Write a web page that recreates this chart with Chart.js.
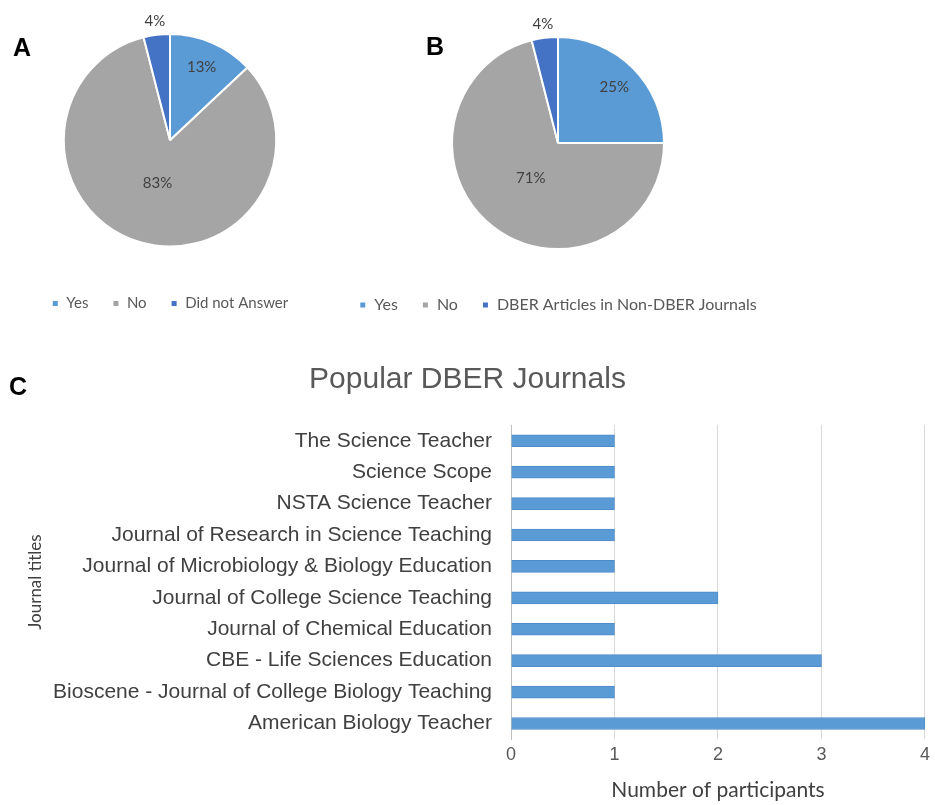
<!DOCTYPE html>
<html lang="en">
<head>
<meta charset="UTF-8">
<title>DBER journals survey</title>
<script src="https://cdn.jsdelivr.net/npm/chart.js"></script>
<style>
    body {
        margin: 0;
        background: #fff;
        width: 935px;
        height: 805px;
        position: relative;
        overflow: hidden;
    }
    canvas { position: absolute; }
    .panel {
        position: absolute;
        font-family: "Liberation Sans", Arial, sans-serif;
        font-weight: bold;
        font-size: 25px;
        color: #000;
        z-index: 2;
    }
</style>
</head>
<body>
<div class="panel" style="left:13px; top:33px">A</div>
<div class="panel" style="left:426px; top:32px">B</div>
<div class="panel" style="left:9px; top:372px">C</div>

<canvas id="pieA" width="340" height="321" style="left:0; top:0"></canvas>
<canvas id="pieB" width="480" height="323" style="left:318px; top:0"></canvas>
<canvas id="barC" width="935" height="465" style="left:0; top:340px"></canvas>

<script>
    // pie A
    const pieLabelsA = ['Yes', 'No', 'Did not Answer'];
    const pieValuesA = [13, 83, 4];

    // pie B
    const pieLabelsB = ['Yes', 'No', 'DBER Articles in Non-DBER Journals'];
    const pieValuesB = [25, 71, 4];

    const pieColors = ['#5B9BD5', '#A5A5A5', '#4472C4'];

    // bar C: popular journals (top to bottom)
    const journals = [
        'The Science Teacher',
        'Science Scope',
        'NSTA Science Teacher',
        'Journal of Research in Science Teaching',
        'Journal of Microbiology & Biology Education',
        'Journal of College Science Teaching',
        'Journal of Chemical Education',
        'CBE - Life Sciences Education',
        'Bioscene - Journal of College Biology Teaching',
        'American Biology Teacher'
    ];
    const participants = [1, 1, 1, 1, 1, 2, 1, 3, 1, 4];
    const xMin = 0;
    const xMax = 4;

    // percentage labels on the pie slices
    const pctLabels = {
        id: 'pctLabels',
        afterDatasetsDraw(chart) {
            const ctx = chart.ctx;
            const meta = chart.getDatasetMeta(0);
            const values = chart.data.datasets[0].data;
            ctx.save();
            ctx.font = '15px Lato';
            ctx.fillStyle = '#404040';
            ctx.textAlign = 'center';
            ctx.textBaseline = 'middle';
            meta.data.forEach((arc, i) => {
                const p = arc.getProps(['x', 'y', 'startAngle', 'endAngle', 'outerRadius']);
                const mid = (p.startAngle + p.endAngle) / 2;
                let r;
                if (values[i] < 8) r = p.outerRadius + 14;      // small slice: outside
                else if (values[i] > 50) r = p.outerRadius * 0.42;
                else r = p.outerRadius * 0.75;
                ctx.fillText(values[i] + '%', p.x + Math.cos(mid) * r, p.y + Math.sin(mid) * r);
            });
            ctx.restore();
        }
    };

    // legend title is only an empty spacer, to push the legend row down
    function pieChart(id, labels, values, padTop, fontSize, gap) {
        new Chart(document.getElementById(id).getContext('2d'), {
            type: 'pie',
            data: {
                labels: labels,
                datasets: [{
                    data: values,
                    backgroundColor: pieColors,
                    borderColor: '#ffffff',
                    borderWidth: 2
                }]
            },
            options: {
                responsive: false,
                animation: false,
                layout: { padding: { top: padTop, bottom: 0 } },
                plugins: {
                    tooltip: { enabled: false },
                    legend: {
                        position: 'bottom',
                        title: {
                            display: true,
                            text: ' ',
                            font: { size: 10 },
                            padding: { top: gap, bottom: 0 }
                        },
                        labels: {
                            boxWidth: 7,
                            boxHeight: 7,
                            padding: 24,
                            color: '#595959',
                            font: { family: 'Lato', size: fontSize }
                        }
                    }
                }
            },
            plugins: [pctLabels]
        });
    }

    pieChart('pieA', pieLabelsA, pieValuesA, 33, 15, 12.5);
    pieChart('pieB', pieLabelsB, pieValuesB, 36, 16, 11);

    new Chart(document.getElementById('barC').getContext('2d'), {
        type: 'bar',
        data: {
            labels: journals,
            datasets: [{
                data: participants,
                backgroundColor: '#5B9BD5',
                borderColor: '#4F8BC9',
                borderWidth: 1,
                barThickness: 12
            }]
        },
        options: {
            indexAxis: 'y',
            responsive: false,
            animation: false,
            layout: { padding: { left: 0, right: 0, top: 0, bottom: 0 } },
            plugins: {
                legend: { display: false },
                tooltip: { enabled: false },
                title: {
                    display: true,
                    text: 'Popular DBER Journals',
                    color: '#595959',
                    font: { family: 'Liberation Sans', size: 30, weight: 'normal' },
                    padding: { top: 22, bottom: 27 }
                }
            },
            scales: {
                x: {
                    min: xMin,
                    max: xMax,
                    ticks: {
                        stepSize: 1,
                        color: '#595959',
                        padding: 5,
                        font: { family: 'Liberation Sans', size: 18 }
                    },
                    grid: { color: '#d9d9d9', drawTicks: false },
                    border: { display: false },
                    title: {
                        display: true,
                        text: 'Number of participants',
                        color: '#404040',
                        font: { family: 'Lato', size: 21 },
                        padding: { top: 7, bottom: 2 }
                    }
                },
                y: {
                    ticks: {
                        color: '#404040',
                        padding: 19,
                        font: { family: 'Liberation Sans', size: 21 }
                    },
                    grid: { display: false, drawTicks: false },
                    border: { color: '#bfbfbf' },
                    afterFit(scale) { scale.width = 511; },
                    title: {
                        display: true,
                        text: 'Journal titles',
                        color: '#404040',
                        font: { family: 'Lato', size: 17 },
                        padding: { top: 25, bottom: 4 }
                    }
                }
            }
        }
    });
</script>
</body>
</html>
